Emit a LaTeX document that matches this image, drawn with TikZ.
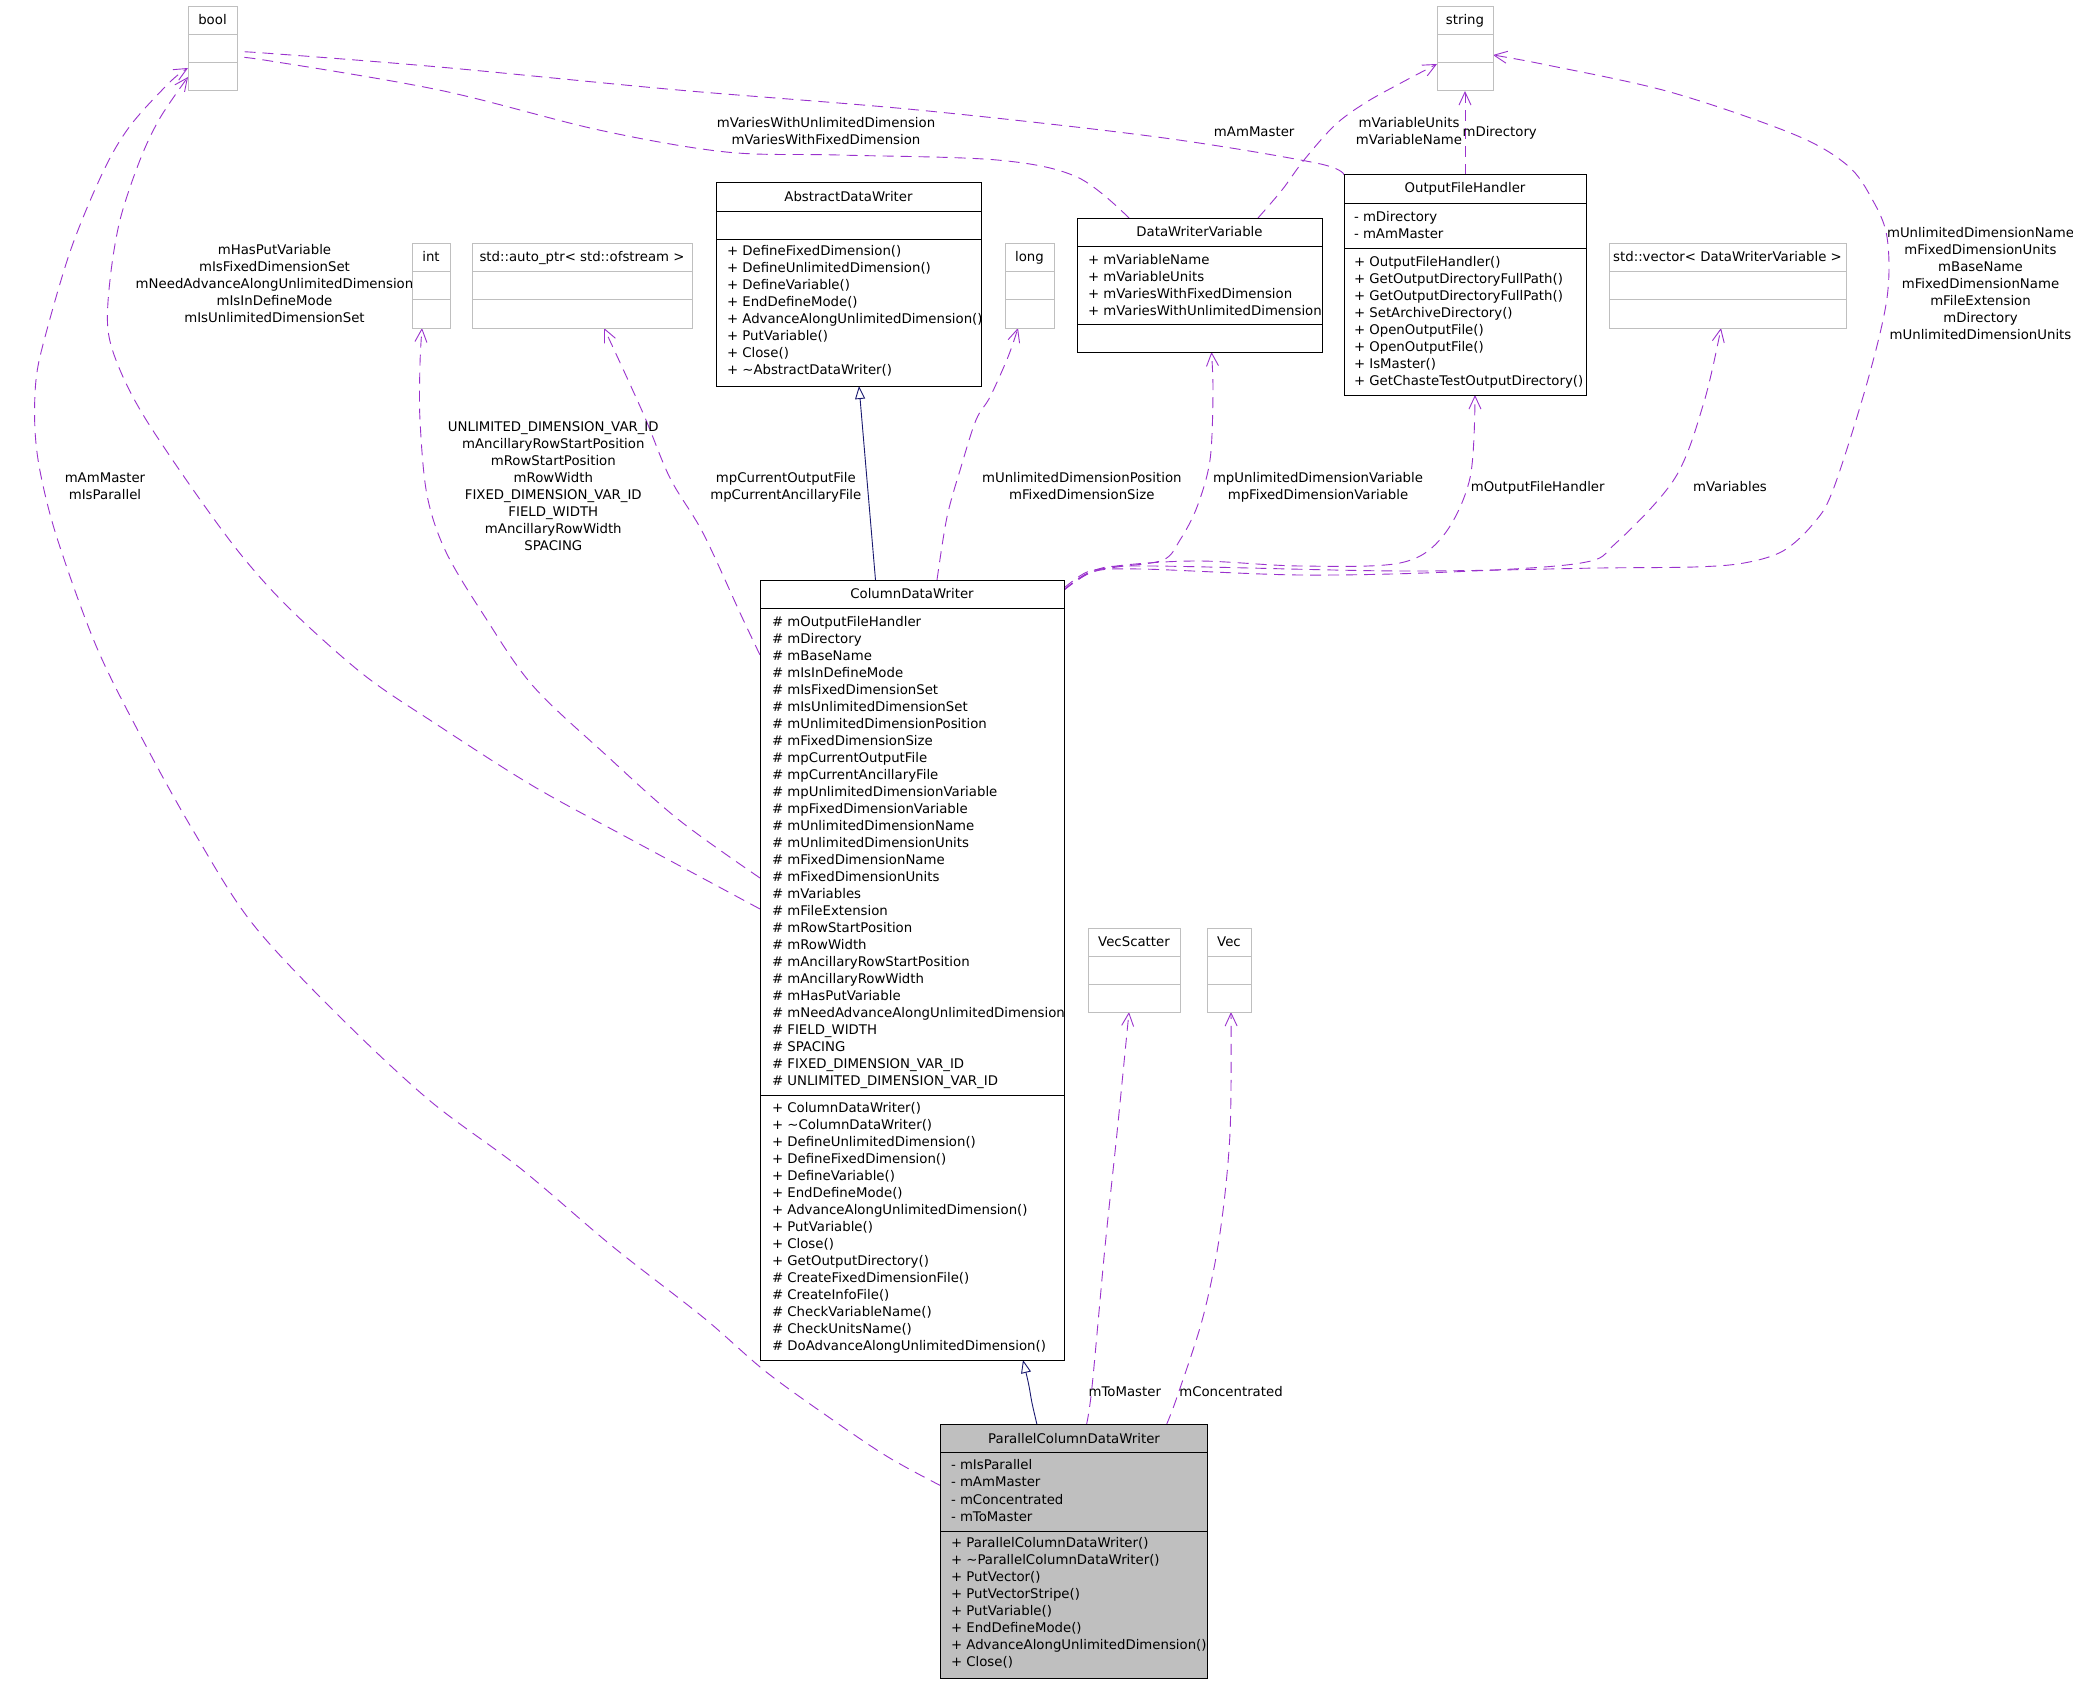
\documentclass[tikz,border=0pt]{standalone}
\usepackage{fontspec}
\setmainfont{DejaVu Sans}
\usetikzlibrary{arrows.meta,calc}
\definecolor{usecol}{HTML}{9A32CD}
\definecolor{inhcol}{HTML}{191970}
\definecolor{greyseventyfive}{HTML}{BFBFBF}
\tikzset{
  txt/.style={font=\fontsize{13.3pt}{17pt}\selectfont, inner sep=0pt, outer sep=0pt},
  cbox/.style={draw=black, line width=1pt, fill=white, inner sep=0pt, outer sep=0pt},
  gbox/.style={draw=greyseventyfive, line width=1pt, fill=white, inner sep=0pt, outer sep=0pt},
  pbox/.style={draw=black, line width=1pt, fill=greyseventyfive, inner sep=0pt, outer sep=0pt},
  sepc/.style={draw=black, line width=1pt},
  sepg/.style={draw=greyseventyfive, line width=1pt},
  uses/.style={draw=usecol, line width=0.9pt, dash pattern=on 11pt off 7pt, -{Straight Barb[length=13pt,width=12pt]}},
  inh/.style={draw=inhcol, line width=0.9pt, -{Triangle[open,length=13pt,width=10pt,fill=white]}},
}
% #1 name, #2 box style, #3 separator style, #4 x1, #5 y1, #6 x2, #7 y2, #8 separator offsets
\newcommand\classbox[8]{%
  \node[#2, anchor=north west, minimum width={(#6)-(#4)}, minimum height={(#7)-(#5)}] (#1) at (#4,#5) {};
  \foreach \sepoff in {#8} \draw[#3] ($(#1.north west)+(0,\sepoff)$) -- ($(#1.north east)+(0,\sepoff)$);
}
% #1 name prefix, #2 anchor, #3 x, #4 first baseline, #5 step, #6 lines
\newcommand\textlines[6]{%
  \foreach \linetxt [count=\lineno] in {#6}
    \node[txt, anchor=#2] (#1\lineno) at ({#3},{#4+#5*(\lineno-1)}) {\linetxt};
}
\begin{document}
\begin{tikzpicture}[x=1pt, y=-1pt]
\fill[white] (0,0) rectangle (2073,1683);
\useasboundingbox (0,0) rectangle (2073,1683);

% ---------- invisible anchors: create boxes first (drawn again later on top) ----------
\begin{scope}[opacity=0]
\classbox{bool}{gbox}{sepg}{188}{7}{237}{91}{}
\classbox{string}{gbox}{sepg}{1437}{7}{1493}{91}{}
\classbox{int}{gbox}{sepg}{412}{243}{450}{328}{}
\classbox{autoptr}{gbox}{sepg}{472}{243}{692}{328}{}
\classbox{long}{gbox}{sepg}{1005}{243}{1054}{328}{}
\classbox{vector}{gbox}{sepg}{1609}{243}{1846}{328}{}
\classbox{vs}{gbox}{sepg}{1088}{928}{1180}{1012}{}
\classbox{vecb}{gbox}{sepg}{1207}{928}{1251}{1012}{}
\classbox{adw}{cbox}{sepc}{716}{183}{981}{386}{}
\classbox{dwv}{cbox}{sepc}{1077}{218}{1322}{352}{}
\classbox{ofh}{cbox}{sepc}{1344}{175}{1586}{395}{}
\classbox{cdw}{cbox}{sepc}{760}{580}{1064}{1360}{}
\classbox{pcdw}{pbox}{sepc}{940.5}{1424.6}{1207.6}{1678.5}{}
\end{scope}

% ---------- connectors ----------
% Parallel -> bool (mAmMaster, mIsParallel)
\draw[uses] plot[smooth, tension=0.55] coordinates {($(pcdw.north west)+(0,61)$) (888,1457) (830,1418) (765,1371) (704,1318) (612,1246) (520,1168) (429,1100) (337,1014) (252,923) (194,832) (145,744) (97,648) (58,541) (41,476) (35,430) (36,380) (45,337) (71,249) (103,172) (130,126) (170,82) ($(bool.north west)+(0,61)$)};
% ColumnDataWriter -> bool
\draw[uses] plot[smooth, tension=0.55] coordinates {($(cdw.north west)+(0,329)$) (630,839) (533,786) (436,724) (364,675) (291,610) (242,556) (194,491) (145,418) (120,370) (108,330) (110,280) (120,220) (140,160) (160,118) ($(bool.north west)+(0,70)$)};
% ColumnDataWriter -> int
\draw[uses] plot[smooth, tension=0.55] coordinates {($(cdw.north west)+(0,298)$) (679,820) (606,755) (533,686) (485,617) (446,552) (427,495) (420,420) (420,364) ($(int.south west)+(10,0)$)};
% ColumnDataWriter -> auto_ptr
\draw[uses] plot[smooth, tension=0.55] coordinates {($(cdw.north west)+(0,75)$) (741,615) (703,533) (670,478) (643,413) ($(autoptr.south west)+(132,0)$)};
% ColumnDataWriter -> long
\draw[uses] plot[smooth, tension=0.55] coordinates {($(cdw.north west)+(177,0)$) (947,517) (961,467) (976,420) (990,397) (1008,357) ($(long.south west)+(13,0)$)};
% ColumnDataWriter -> DataWriterVariable
\draw[uses] plot[smooth, tension=0.55] coordinates {($(cdw.north east)+(0,8)$) (1087,572) (1117,567) (1163,560) (1180,540) (1197,507) (1210,460) (1213,393) ($(dwv.south west)+(134.5,0)$)};
% ColumnDataWriter -> OutputFileHandler
\draw[uses] plot[smooth, tension=0.55] coordinates {($(cdw.north east)+(0,10)$) (1090,573) (1125,565) (1200,561) (1300,566) (1400,563) (1443,536) (1470,478) ($(ofh.south west)+(131,0)$)};
% ColumnDataWriter -> std::vector
\draw[uses] plot[smooth, tension=0.55] coordinates {($(cdw.north east)+(0,10)$) (1092,572) (1140,569) (1300,575) (1450,572) (1581,563) (1616,543) (1675,478) (1704,402) ($(vector.south west)+(112,0)$)};
% ColumnDataWriter -> string
\draw[uses] plot[smooth, tension=0.55] coordinates {($(cdw.north east)+(0,10)$) (1095,570) (1150,566) (1400,571) (1600,568) (1694,567) (1744,563) (1783,551) (1813,524) (1833,490) (1867,383) (1887,298) (1887,237) (1872,199) (1847,165) (1793,134) (1670,92) (1547,65) ($(string.north east)+(0,48)$)};
% DataWriterVariable -> bool
\draw[uses] plot[smooth, tension=0.55] coordinates {($(dwv.north west)+(52,0)$) (1077,177) (997,160) (838,155) (726,152) (599,130) (439,90) (264,60) ($(bool.north east)+(0,51)$)};
% OutputFileHandler -> bool
\draw[uses] plot[smooth, tension=0.55] coordinates {(ofh.north west) (1316,163) (1157,137) (918,110) (678,90) (439,67) (264,53) ($(bool.north east)+(0,45)$)};
% DataWriterVariable -> string
\draw[uses] plot[smooth, tension=0.55] coordinates {($(dwv.north west)+(181,0)$) (1282,190) (1304,160) (1335,125) (1365,103) (1399,84) ($(string.north west)+(0,57)$)};
% OutputFileHandler -> string
\draw[uses] (ofh.north) -- (string.south);
% ParallelColumnDataWriter -> VecScatter
\draw[uses] plot[smooth, tension=0.55] coordinates {($(pcdw.north west)+(146,0)$) (1092,1387) (1105,1247) (1117,1133) ($(vs.south west)+(41,0)$)};
% ParallelColumnDataWriter -> Vec
\draw[uses] plot[smooth, tension=0.55] coordinates {($(pcdw.north west)+(226,0)$) (1177,1397) (1203,1317) (1220,1233) (1230,1133) ($(vecb.south west)+(24,0)$)};
% inheritance
\draw[inh] ($(cdw.north west)+(115.5,0)$) -- ($(adw.south west)+(143,0)$);
\draw[inh] plot[smooth, tension=0.5] coordinates {($(pcdw.north west)+(96.5,0)$) (1032,1403) (1028.6,1384) ($(cdw.south west)+(263,0)$)};

% ---------- connector labels ----------
\textlines{lb}{base}{274.5}{254.3}{17}{mHasPutVariable,mIsFixedDimensionSet,mNeedAdvanceAlongUnlimitedDimension,mIsInDefineMode,mIsUnlimitedDimensionSet}
\textlines{la}{base}{105}{482.4}{17}{mAmMaster,mIsParallel}
\textlines{li}{base}{553.3}{431.5}{17}{UNLIMITED\_DIMENSION\_VAR\_ID,mAncillaryRowStartPosition,mRowStartPosition,mRowWidth,FIXED\_DIMENSION\_VAR\_ID,FIELD\_WIDTH,mAncillaryRowWidth,SPACING}
\textlines{ld}{base}{785.8}{482.5}{17}{mpCurrentOutputFile,mpCurrentAncillaryFile}
\textlines{le}{base}{1081.8}{482.5}{17}{mUnlimitedDimensionPosition,mFixedDimensionSize}
\textlines{lf}{base}{1318}{482.5}{17}{mpUnlimitedDimensionVariable,mpFixedDimensionVariable}
\textlines{lg}{base}{1537.7}{491.2}{17}{mOutputFileHandler}
\textlines{lh}{base}{1730}{491.2}{17}{mVariables}
\textlines{ls}{base}{1980.5}{237.1}{17}{mUnlimitedDimensionName,mFixedDimensionUnits,mBaseName,mFixedDimensionName,mFileExtension,mDirectory,mUnlimitedDimensionUnits}
\textlines{lj}{base}{826}{127.5}{17}{mVariesWithUnlimitedDimension,mVariesWithFixedDimension}
\textlines{lk}{base}{1254.2}{136.5}{17}{mAmMaster}
\textlines{ll}{base}{1409}{127.3}{17}{mVariableUnits,mVariableName}
\textlines{lm}{base}{1499.7}{136.4}{17}{mDirectory}
\textlines{ln}{base}{1124.8}{1396.3}{17}{mToMaster}
\textlines{lo}{base}{1231}{1396.3}{17}{mConcentrated}

% ---------- class boxes ----------
\classbox{bool}{gbox}{sepg}{188}{7}{237}{91}{28,56}
\classbox{string}{gbox}{sepg}{1437}{7}{1493}{91}{28,56}
\classbox{int}{gbox}{sepg}{412}{243}{450}{328}{28,56}
\classbox{autoptr}{gbox}{sepg}{472}{243}{692}{328}{28,56}
\classbox{long}{gbox}{sepg}{1005}{243}{1054}{328}{28,56}
\classbox{vector}{gbox}{sepg}{1609}{243}{1846}{328}{28,56}
\classbox{vs}{gbox}{sepg}{1088}{928}{1180}{1012}{28,56}
\classbox{vecb}{gbox}{sepg}{1207}{928}{1251}{1012}{28,56}
\classbox{adw}{cbox}{sepc}{716}{183}{981}{386}{28,56}
\classbox{dwv}{cbox}{sepc}{1077}{218}{1322}{352}{28.4,106}
\classbox{ofh}{cbox}{sepc}{1344}{175}{1586}{395}{28.5,73.4}
\classbox{cdw}{cbox}{sepc}{760}{580}{1064}{1360}{28.4,515.6}
\classbox{pcdw}{pbox}{sepc}{940.5}{1424.6}{1207.6}{1678.5}{27.7,106.9}

% titles
\node[txt, anchor=base] (bool-t) at ($(bool.north)+(0,18)$) {bool};
\node[txt, anchor=base] (string-t) at ($(string.north)+(0,18)$) {string};
\node[txt, anchor=base] (int-t) at ($(int.north)+(0,18)$) {int};
\node[txt, anchor=base] (autoptr-t) at ($(autoptr.north)+(0,18)$) {std::auto\_ptr< std::ofstream >};
\node[txt, anchor=base] (long-t) at ($(long.north)+(0,18)$) {long};
\node[txt, anchor=base] (vector-t) at ($(vector.north)+(0,18)$) {std::vector< DataWriterVariable >};
\node[txt, anchor=base] (vs-t) at ($(vs.north)+(0,18)$) {VecScatter};
\node[txt, anchor=base] (vecb-t) at ($(vecb.north)+(0,18)$) {Vec};
\node[txt, anchor=base] (adw-t) at ($(adw.north)+(0,18)$) {AbstractDataWriter};
\node[txt, anchor=base] (dwv-t) at ($(dwv.north)+(0,18)$) {DataWriterVariable};
\node[txt, anchor=base] (ofh-t) at ($(ofh.north)+(0,18)$) {OutputFileHandler};
\node[txt, anchor=base] (cdw-t) at ($(cdw.north)+(0,18)$) {ColumnDataWriter};
\node[txt, anchor=base] (pcdw-t) at ($(pcdw.north)+(0,18.5)$) {ParallelColumnDataWriter};

% members
\textlines{adwm}{base west}{727}{255.8}{17}{+ DefineFixedDimension(),+ DefineUnlimitedDimension(),+ DefineVariable(),+ EndDefineMode(),+ AdvanceAlongUnlimitedDimension(),+ PutVariable(),+ Close(),+ \textasciitilde AbstractDataWriter()}
\textlines{dwva}{base west}{1088}{264.5}{17}{+ mVariableName,+ mVariableUnits,+ mVariesWithFixedDimension,+ mVariesWithUnlimitedDimension}
\textlines{ofha}{base west}{1354}{221.4}{17}{- mDirectory,- mAmMaster}
\textlines{ofhm}{base west}{1354}{266.2}{17}{+ OutputFileHandler(),+ GetOutputDirectoryFullPath(),+ GetOutputDirectoryFullPath(),+ SetArchiveDirectory(),+ OpenOutputFile(),+ OpenOutputFile(),+ IsMaster(),+ GetChasteTestOutputDirectory()}
\textlines{cdwa}{base west}{772}{626.2}{17}{\# mOutputFileHandler,\# mDirectory,\# mBaseName,\# mIsInDefineMode,\# mIsFixedDimensionSet,\# mIsUnlimitedDimensionSet,\# mUnlimitedDimensionPosition,\# mFixedDimensionSize,\# mpCurrentOutputFile,\# mpCurrentAncillaryFile,\# mpUnlimitedDimensionVariable,\# mpFixedDimensionVariable,\# mUnlimitedDimensionName,\# mUnlimitedDimensionUnits,\# mFixedDimensionName,\# mFixedDimensionUnits,\# mVariables,\# mFileExtension,\# mRowStartPosition,\# mRowWidth,\# mAncillaryRowStartPosition,\# mAncillaryRowWidth,\# mHasPutVariable,\# mNeedAdvanceAlongUnlimitedDimension,\# FIELD\_WIDTH,\# SPACING,\# FIXED\_DIMENSION\_VAR\_ID,\# UNLIMITED\_DIMENSION\_VAR\_ID}
\textlines{cdwm}{base west}{772}{1112.9}{17}{+ ColumnDataWriter(),+ \textasciitilde ColumnDataWriter(),+ DefineUnlimitedDimension(),+ DefineFixedDimension(),+ DefineVariable(),+ EndDefineMode(),+ AdvanceAlongUnlimitedDimension(),+ PutVariable(),+ Close(),+ GetOutputDirectory(),\# CreateFixedDimensionFile(),\# CreateInfoFile(),\# CheckVariableName(),\# CheckUnitsName(),\# DoAdvanceAlongUnlimitedDimension()}
\textlines{pcdwa}{base west}{951}{1469.8}{17.1}{- mIsParallel,- mAmMaster,- mConcentrated,- mToMaster}
\textlines{pcdwm}{base west}{951}{1547.9}{17}{+ ParallelColumnDataWriter(),+ \textasciitilde ParallelColumnDataWriter(),+ PutVector(),+ PutVectorStripe(),+ PutVariable(),+ EndDefineMode(),+ AdvanceAlongUnlimitedDimension(),+ Close()}
\end{tikzpicture}
\end{document}
